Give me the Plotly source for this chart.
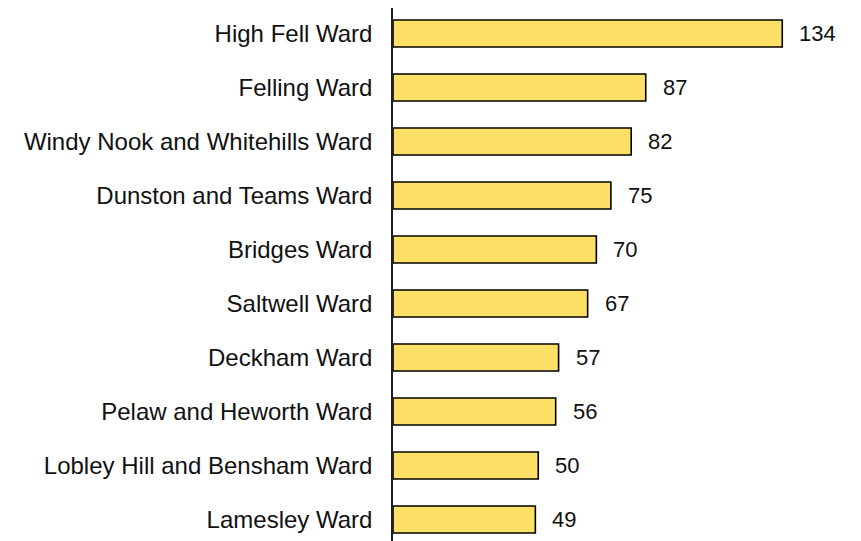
import plotly.graph_objects as go

wards = [
    "High Fell Ward",
    "Felling Ward",
    "Windy Nook and Whitehills Ward",
    "Dunston and Teams Ward",
    "Bridges Ward",
    "Saltwell Ward",
    "Deckham Ward",
    "Pelaw and Heworth Ward",
    "Lobley Hill and Bensham Ward",
    "Lamesley Ward",
]
counts = [134, 87, 82, 75, 70, 67, 57, 56, 50, 49]

FONT = "Liberation Sans, Arial, sans-serif"

fig = go.Figure()
fig.add_trace(go.Bar(
    x=counts,
    y=wards,
    orientation="h",
    width=0.5,
    marker=dict(color="#FFE066", line=dict(color="#000000", width=1.6)),
    hoverinfo="x+y",
))

for w, c in zip(wards, counts):
    fig.add_annotation(
        x=c, y=w, text=str(c), showarrow=False,
        xanchor="left", yanchor="middle", xshift=15,
        font=dict(family=FONT, size=22, color="#111111"),
    )

fig.update_layout(
    width=853, height=533,
    margin=dict(l=385, r=0, t=0, b=0, autoexpand=False),
    paper_bgcolor="white", plot_bgcolor="white",
    showlegend=False,
    font=dict(family=FONT, size=22, color="#111111"),
    bargap=0.5,
)
fig.update_xaxes(range=[0, 161.1], visible=False, showgrid=False, zeroline=False,
                 automargin=False)
fig.update_yaxes(
    categoryorder="array", categoryarray=wards,
    range=[9.398, -0.472],
    automargin=False,
    showline=True, linecolor="#222222", linewidth=1.5,
    showgrid=False, zeroline=False, ticks="",
    ticklabelstandoff=14,
    tickfont=dict(family=FONT, size=24, color="#111111"),
)

fig.write_html("out.html")
